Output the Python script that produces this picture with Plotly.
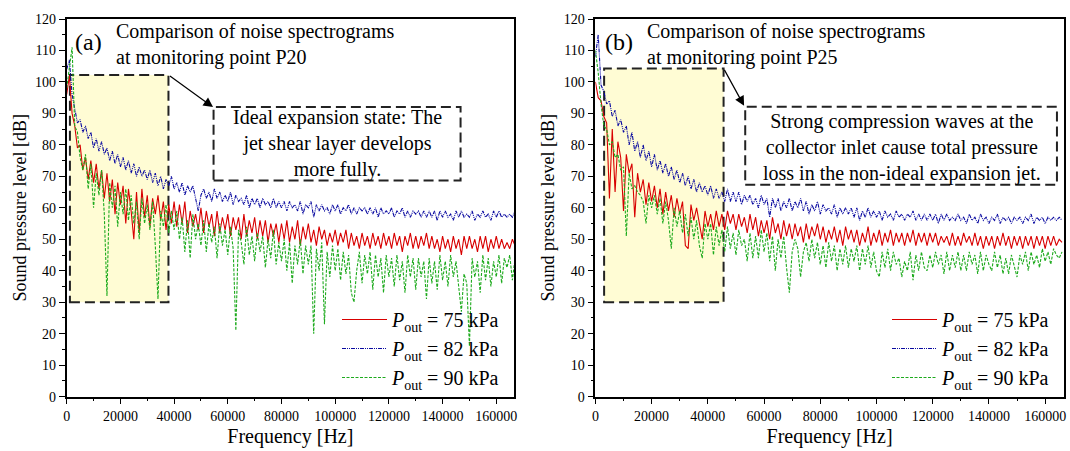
import plotly.graph_objects as go

# ---------------- data ----------------
FREQ_A = list(range(0, 168000, 1000))   # Hz, panel (a) grid
FREQ_B = list(range(0, 167000, 1000))   # Hz, panel (b) grid

SPL_A_75 = [96, 102, 90, 86, 79, 80, 72, 76, 69, 75,
            68, 74, 66, 72, 63, 71, 62, 69, 58, 68,
            61, 67, 55, 66, 59, 50, 65, 52, 66, 57,
            64, 54, 63, 58, 64, 56, 62, 53, 61, 55,
            62, 54, 61, 55, 62, 52, 59, 54, 58, 53,
            60, 52, 59, 54, 58, 51, 59, 52, 57, 53,
            58, 51, 57, 53, 57, 50, 58, 51, 56, 52,
            57, 50, 56, 51, 56, 49, 55, 51, 55, 49,
            55, 50, 56, 49, 54, 50, 56, 48, 54, 50,
            55, 49, 53, 48, 54, 50, 53, 48, 52, 49,
            53, 48, 52, 49, 53, 47, 52, 48, 51, 47,
            52, 48, 51, 47, 52, 48, 51, 47, 52, 48,
            51, 47, 52, 48, 51, 46, 51, 48, 52, 47,
            51, 47, 51, 48, 52, 47, 51, 47, 50, 46,
            51, 47, 50, 46, 51, 47, 50, 45, 51, 47,
            51, 47, 50, 46, 51, 47, 51, 46, 50, 47,
            51, 47, 50, 47, 49, 47, 50, 48]

SPL_A_82 = [104, 107, 96, 92, 87, 88, 84, 86, 82, 84,
            79, 82, 78, 81, 77, 79, 75, 78, 74, 77,
            73, 76, 72, 75, 71, 74, 70, 73, 70, 72,
            69, 72, 68, 71, 67, 70, 66, 69, 67, 70,
            66, 68, 65, 68, 64, 67, 65, 67, 63, 59,
            64, 66, 63, 65, 62, 66, 63, 65, 62, 64,
            62, 65, 61, 64, 62, 63, 61, 64, 60, 63,
            61, 63, 60, 63, 61, 62, 60, 63, 60, 62,
            60, 62, 59, 62, 60, 61, 59, 62, 58, 61,
            60, 62, 57, 61, 59, 61, 59, 60, 58, 61,
            59, 61, 58, 60, 59, 61, 58, 60, 58, 60,
            59, 60, 58, 60, 58, 60, 57, 60, 58, 59,
            58, 60, 57, 59, 58, 60, 57, 59, 57, 59,
            58, 59, 57, 59, 57, 59, 57, 59, 56, 59,
            57, 59, 57, 58, 56, 59, 57, 59, 57, 58,
            57, 59, 56, 58, 57, 59, 57, 58, 56, 59,
            57, 59, 57, 58, 57, 58, 57, 59]

SPL_A_90 = [98, 104, 111, 86, 84, 76, 72, 77, 66, 74,
            60, 71, 64, 72, 58, 32, 68, 60, 67, 54,
            65, 58, 66, 56, 64, 55, 62, 50, 63, 55,
            61, 53, 62, 48, 31, 59, 54, 61, 52, 59,
            53, 59, 50, 57, 46, 56, 44, 58, 50, 55,
            48, 56, 46, 55, 49, 54, 44, 55, 48, 53,
            45, 54, 47, 21, 53, 49, 42, 54, 45, 51,
            43, 52, 46, 51, 41, 50, 44, 53, 42, 49,
            43, 50, 40, 49, 36, 48, 42, 50, 39, 48,
            42, 48, 20, 47, 40, 49, 23, 46, 38, 48,
            40, 47, 37, 46, 39, 45, 33, 30, 40, 46,
            36, 45, 39, 46, 34, 45, 38, 44, 33, 45,
            38, 44, 35, 45, 37, 43, 33, 45, 38, 44,
            34, 44, 38, 43, 31, 44, 36, 43, 34, 45,
            37, 43, 35, 45, 38, 43, 34, 27, 39, 36,
            16, 44, 38, 43, 33, 45, 37, 44, 35, 43,
            38, 45, 36, 44, 41, 45, 37, 44]

SPL_B_75 = [100, 95, 94, 89, 87, 63, 85, 65, 81, 76,
            59, 77, 71, 74, 57, 71, 65, 69, 61, 68,
            62, 67, 60, 66, 58, 65, 59, 64, 57, 63,
            58, 62, 48, 47, 61, 56, 60, 55, 50, 59,
            54, 58, 53, 59, 54, 58, 53, 59, 55, 58,
            53, 58, 54, 57, 52, 58, 53, 57, 51, 56,
            52, 56, 50, 57, 52, 55, 50, 56, 51, 55,
            50, 55, 51, 54, 49, 55, 50, 54, 51, 55,
            50, 54, 49, 53, 50, 54, 49, 53, 48, 54,
            50, 53, 49, 53, 48, 52, 49, 54, 48, 52,
            49, 53, 48, 52, 49, 53, 48, 52, 49, 52,
            48, 52, 49, 53, 48, 52, 49, 52, 48, 52,
            49, 52, 48, 51, 49, 51, 48, 52, 48, 51,
            48, 52, 49, 51, 48, 52, 48, 51, 47, 51,
            48, 51, 47, 51, 48, 52, 48, 51, 47, 51,
            48, 51, 47, 51, 48, 51, 47, 51, 48, 51,
            47, 51, 48, 51, 48, 50, 49]

SPL_B_82 = [108, 115, 99, 97, 93, 94, 89, 91, 86, 88,
            84, 86, 80, 84, 78, 81, 76, 80, 75, 78,
            73, 77, 72, 75, 71, 74, 70, 73, 69, 72,
            68, 71, 67, 70, 66, 69, 65, 68, 65, 67,
            64, 67, 63, 66, 63, 65, 62, 66, 62, 65,
            62, 65, 61, 64, 62, 64, 61, 63, 60, 64,
            61, 63, 57, 63, 60, 63, 59, 62, 60, 63,
            59, 62, 60, 63, 59, 62, 58, 61, 59, 62,
            58, 61, 59, 60, 58, 61, 57, 60, 58, 60,
            58, 60, 57, 60, 56, 59, 57, 60, 57, 59,
            57, 59, 56, 59, 57, 58, 56, 59, 57, 58,
            56, 58, 57, 59, 56, 58, 56, 58, 56, 58,
            56, 58, 55, 58, 56, 58, 56, 57, 56, 58,
            56, 57, 55, 58, 56, 57, 55, 58, 56, 57,
            55, 57, 56, 58, 55, 57, 56, 57, 55, 57,
            56, 57, 55, 57, 56, 58, 55, 57, 56, 57,
            55, 57, 56, 57, 56, 57, 56]

SPL_B_90 = [110, 103, 93, 86, 85, 80, 81, 76, 77, 72,
            73, 51, 71, 66, 67, 65, 64, 62, 55, 64,
            60, 64, 58, 63, 55, 62, 56, 47, 60, 54,
            59, 52, 58, 51, 57, 50, 56, 48, 44, 55,
            50, 55, 45, 54, 48, 53, 46, 54, 47, 52,
            45, 53, 48, 50, 43, 52, 44, 51, 44, 53,
            46, 52, 43, 51, 40, 50, 44, 51, 41, 33,
            46, 50, 47, 38, 46, 49, 43, 50, 44, 49,
            42, 48, 41, 49, 43, 48, 40, 47, 42, 48,
            41, 47, 43, 48, 40, 47, 42, 48, 41, 46,
            40, 38, 46, 41, 47, 40, 46, 42, 44, 38,
            43, 40, 46, 37, 45, 40, 46, 41, 40, 45,
            41, 46, 42, 45, 39, 46, 40, 45, 41, 46,
            40, 45, 40, 46, 42, 45, 39, 46, 40, 45,
            42, 40, 46, 41, 45, 39, 44, 39, 45, 41,
            38, 45, 42, 46, 40, 46, 42, 45, 41, 47,
            43, 46, 42, 47, 45, 44, 46]

SERIES_NAMES = ["<i>P</i><sub>out</sub> = 75 kPa",
                "<i>P</i><sub>out</sub> = 82 kPa",
                "<i>P</i><sub>out</sub> = 90 kPa"]

TITLE_A = "Comparison of noise spectrograms<br>at monitoring point P20"
TITLE_B = "Comparison of noise spectrograms<br>at monitoring point P25"
NOTE_A = "Ideal expansion state: The<br>jet shear layer develops<br>more fully."
NOTE_B = "Strong compression waves at the<br>collector inlet cause total pressure<br>loss in the non-ideal expansion jet."

# ---------------- styling ----------------
FONT = "Liberation Serif"
COLORS = ["#D80000", "#0A0AA0", "#1DAA1D"]
DASHES = ["solid", "4px,1px,1px,1px,1px,1px", "3px,1.5px"]
W, H = 1070, 451

fig = go.Figure()

panels = [
    (FREQ_A, [SPL_A_75, SPL_A_82, SPL_A_90], "x", "y", "legend"),
    (FREQ_B, [SPL_B_75, SPL_B_82, SPL_B_90], "x2", "y2", "legend2"),
]
for freq, series, xa, ya, lg in panels:
    for name, vals, col, dash in zip(SERIES_NAMES, series, COLORS, DASHES):
        fig.add_trace(go.Scatter(
            x=freq, y=vals, mode="lines", name=name,
            line=dict(color=col, width=1.1, dash=dash),
            xaxis=xa, yaxis=ya, legend=lg, hoverinfo="skip"))

def px_x(p):
    return p / W

def px_y(p):
    return 1 - p / H

axis_common = dict(
    showline=True, linecolor="black", linewidth=1.6, mirror=True,
    ticks="outside", ticklen=6, tickwidth=1.4, tickcolor="black",
    showgrid=False, zeroline=False, automargin=False,
    ticklabeloverflow="allow",
    tickfont=dict(family=FONT, size=14, color="black"),
)
minor_y = dict(ticks="outside", ticklen=3, tickwidth=1.2, tickcolor="black", dtick=5)
minor_x = dict(ticks="outside", ticklen=3, tickwidth=1.2, tickcolor="black", dtick=10000)

xdomA = [px_x(66.7), px_x(514)]
xdomB = [px_x(595.4), px_x(1063.7)]
ydom = [px_y(396.6), px_y(19)]

xtitle = dict(text="Frequency [Hz]", font=dict(size=20, family=FONT), standoff=6)
ytitle = dict(text="Sound pressure level [dB]", font=dict(size=18, family=FONT), standoff=4)

legend_common = dict(xanchor="left", yanchor="top", bgcolor="rgba(0,0,0,0)",
                     font=dict(size=20, family=FONT), itemwidth=45, tracegroupgap=0)

fig.update_layout(
    width=W, height=H,
    margin=dict(l=0, r=0, t=0, b=0, pad=0),
    paper_bgcolor="white", plot_bgcolor="white",
    font=dict(family=FONT, color="black"),
    xaxis=dict(domain=xdomA, range=[0, 166600], dtick=20000, tickformat="d",
               minor=minor_x, anchor="y", title=xtitle, **axis_common),
    yaxis=dict(domain=ydom, range=[0, 120], dtick=10, minor=minor_y, anchor="x",
               title=ytitle, **axis_common),
    xaxis2=dict(domain=xdomB, range=[0, 166600], dtick=20000, tickformat="d",
                minor=minor_x, anchor="y2", title=xtitle, **axis_common),
    yaxis2=dict(domain=ydom, range=[0, 120], dtick=10, minor=minor_y, anchor="x2",
                title=ytitle, **axis_common),
    legend=dict(x=px_x(337), y=px_y(300), **legend_common),
    legend2=dict(x=px_x(887), y=px_y(300), **legend_common),
    showlegend=True,
    hovermode=False,
)

DASHBOX = "10px,5px"
BOXLINE = dict(color="#222", width=2, dash=DASHBOX)
fig.add_shape(type="rect", xref="x", yref="y", x0=1200, x1=37900, y0=30, y1=102.2,
              fillcolor="rgb(255,252,212)", line=BOXLINE, layer="below")
fig.add_shape(type="rect", xref="x2", yref="y2", x0=3100, x1=45600, y0=30, y1=104.3,
              fillcolor="rgb(255,252,212)", line=BOXLINE, layer="below")
fig.add_shape(type="rect", xref="x", yref="y", x0=54700, x1=146700, y0=68.7, y1=92.0,
              fillcolor="rgba(0,0,0,0)", line=BOXLINE, layer="above")
fig.add_shape(type="rect", xref="x2", yref="y2", x0=53300, x1=164200, y0=67.3, y1=92.1,
              fillcolor="rgba(0,0,0,0)", line=BOXLINE, layer="above")

fig.add_annotation(xref="x", yref="y", axref="x", ayref="y",
                   x=54500, y=92.0, ax=37900, ay=102.2, text="", showarrow=True,
                   arrowhead=2, arrowsize=1.6, arrowwidth=1.2, arrowcolor="black")
fig.add_annotation(xref="x2", yref="y2", axref="x2", ayref="y2",
                   x=52900, y=92.4, ax=45600, ay=104.3, text="", showarrow=True,
                   arrowhead=2, arrowsize=1.6, arrowwidth=1.2, arrowcolor="black")

fig.add_annotation(xref="x", yref="y", x=100800, y=80.3, text=NOTE_A, showarrow=False,
                   align="center", font=dict(size=20, family=FONT, color="black"))
fig.add_annotation(xref="x2", yref="y2", x=108900, y=79.3, text=NOTE_B, showarrow=False,
                   align="center", font=dict(size=20, family=FONT, color="black"))

fig.add_annotation(xref="paper", yref="paper", x=px_x(88.5), y=px_y(42), text="(a)",
                   showarrow=False, xanchor="center", yanchor="middle",
                   font=dict(size=24, family=FONT, color="black"))
fig.add_annotation(xref="paper", yref="paper", x=px_x(618.6), y=px_y(42), text="(b)",
                   showarrow=False, xanchor="center", yanchor="middle",
                   font=dict(size=24, family=FONT, color="black"))
fig.add_annotation(xref="paper", yref="paper", x=px_x(114), y=px_y(45), text=TITLE_A,
                   showarrow=False, xanchor="left", yanchor="middle", align="left",
                   font=dict(size=20, family=FONT, color="black"))
fig.add_annotation(xref="paper", yref="paper", x=px_x(645), y=px_y(45), text=TITLE_B,
                   showarrow=False, xanchor="left", yanchor="middle", align="left",
                   font=dict(size=20, family=FONT, color="black"))

# remove the default 8px page margin so the figure fills the 1070x451 window exactly
fig.write_html("out.html", config={"displayModeBar": False},
               post_script="document.body.style.margin='0';document.body.style.overflow='hidden';")
